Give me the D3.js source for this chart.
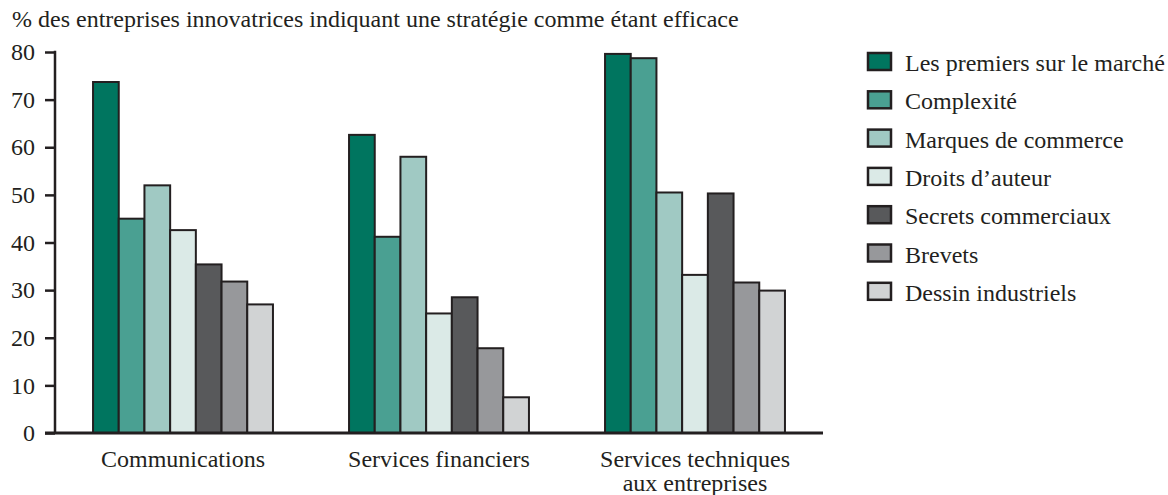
<!DOCTYPE html>
<html>
<head>
<meta charset="utf-8">
<script src="https://cdn.jsdelivr.net/npm/d3@7"></script>
</head>
<body style="margin:0;background:#fff">
<svg id="chart" style="display:block"></svg>
<script>
// data
var categories = ["Communications", "Services financiers", "Services techniques\naux entreprises"];
var strategies = ["Les premiers sur le marché", "Complexité", "Marques de commerce", "Droits d’auteur",
    "Secrets commerciaux", "Brevets", "Dessin industriels"];
var communications = [73.7, 45.0, 52.0, 42.6, 35.4, 31.8, 27.0];
var servicesFinanciers = [62.6, 41.2, 58.0, 25.1, 28.5, 17.8, 7.5];
var servicesTechniques = [79.6, 78.7, 50.5, 33.2, 50.3, 31.6, 29.9];
var yTicks = [0, 10, 20, 30, 40, 50, 60, 70, 80];
var colors = ["#00755f", "#4aa092", "#a0c9c3", "#dbeae7", "#58595b", "#97989b", "#d1d3d4"];

var series = [communications, servicesFinanciers, servicesTechniques];
var serif = "Liberation Serif";
var ink = "#231f20";

var w = 1168, h = 495;
var svg = d3.select("#chart").attr("width", w).attr("height", h)
    .style("font-family", serif);
var margin = { top: 52, right: 345, bottom: 62, left: 55 };
var width = w - margin.left - margin.right,
    height = h - margin.top - margin.bottom;

var g = svg.append("g").attr("transform", "translate(" + margin.left + "," + margin.top + ")");

var x0 = d3.scaleBand().domain(categories).range([0, width]).padding(0);
var x1 = d3.scaleBand().domain(strategies).range([0, x0.bandwidth()]).paddingInner(0).paddingOuter(1.48);
var y = d3.scaleLinear().domain([0, 80]).range([height, 0]);
var color = d3.scaleOrdinal().domain(strategies).range(colors);

// title
svg.append("text")
    .attr("x", 12).attr("y", 27)
    .style("font-family", serif).style("font-size", "24px").style("fill", ink)
    .text("% des entreprises innovatrices indiquant une stratégie comme étant efficace");

// y axis
var yAxis = g.append("g")
    .call(d3.axisLeft(y).tickValues(yTicks).tickSize(10).tickPadding(10));
yAxis.select(".domain").remove();
yAxis.selectAll(".tick line").attr("stroke", ink).attr("stroke-width", 2.5);
yAxis.selectAll(".tick text")
    .style("font-family", serif).style("font-size", "24px").style("fill", ink);
yAxis.append("line")
    .attr("x1", 0).attr("x2", 0).attr("y1", y(80) - 1.25).attr("y2", height)
    .attr("stroke", ink).attr("stroke-width", 2.5);

// bars
var groups = g.selectAll(".grp")
    .data(series)
    .enter().append("g")
    .attr("class", "grp")
    .attr("transform", function(d, i) { return "translate(" + x0(categories[i]) + ",0)"; });

groups.selectAll("rect")
    .data(function(d) { return d.map(function(v, j) { return { key: strategies[j], value: v }; }); })
    .enter().append("rect")
    .attr("x", function(d) { return x1(d.key); })
    .attr("y", function(d) { return y(d.value); })
    .attr("width", x1.bandwidth())
    .attr("height", function(d) { return height - y(d.value); })
    .attr("fill", function(d) { return color(d.key); })
    .attr("stroke", ink)
    .attr("stroke-width", 2);

// x axis baseline
g.append("line")
    .attr("x1", -10).attr("x2", width).attr("y1", height).attr("y2", height)
    .attr("stroke", ink).attr("stroke-width", 3);

// category labels
g.selectAll(".cat")
    .data(categories)
    .enter().append("text")
    .attr("class", "cat")
    .attr("text-anchor", "middle")
    .attr("x", function(d) { return x0(d) + x0.bandwidth() / 2; })
    .attr("y", height + 34)
    .style("font-family", serif).style("font-size", "24px").style("fill", ink)
    .each(function(d) {
        var lines = d.split("\n");
        var t = d3.select(this);
        lines.forEach(function(l, k) {
            t.append("tspan").attr("x", x0(d) + x0.bandwidth() / 2).attr("dy", k ? 24 : 0).text(l);
        });
    });

// legend
var legend = svg.append("g").attr("transform", "translate(868,53)");
var item = legend.selectAll(".item")
    .data(strategies)
    .enter().append("g")
    .attr("transform", function(d, i) { return "translate(0," + (i * 38.3) + ")"; });
item.append("rect")
    .attr("width", 23).attr("height", 17)
    .attr("fill", function(d) { return color(d); })
    .attr("stroke", ink).attr("stroke-width", 2.5);
item.append("text")
    .attr("x", 37).attr("y", 18)
    .style("font-family", serif).style("font-size", "24px").style("fill", ink)
    .text(function(d) { return d; });
</script>
</body>
</html>
